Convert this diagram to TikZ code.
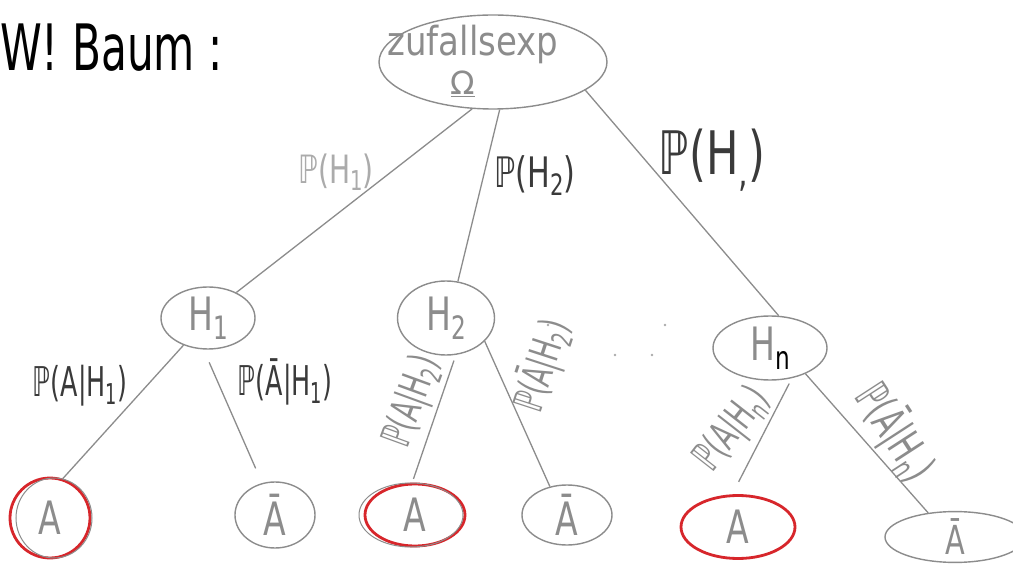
\documentclass[tikz,border=0pt]{standalone}
\usepackage{fontspec}
\setmainfont{DejaVu Sans}
\usetikzlibrary{shapes.geometric}
% handwritten-looking narrow text and small lowered indices
\newcommand\hw[1]{\scalebox{0.72}[1]{#1}}
\newcommand\nw[1]{\scalebox{0.62}[1]{#1}}
\newcommand\idx[1]{\raisebox{-0.35ex}{\scalebox{0.7}{#1}}}
\definecolor{pencil}{HTML}{8C8C8C}
\definecolor{ink}{HTML}{3A3A3A}
\definecolor{faint}{HTML}{ABABAB}
\definecolor{marker}{HTML}{D7262B}
\begin{document}
\begin{tikzpicture}[x=1pt,y=-1pt,
  bubble/.style={ellipse, draw=pencil, line width=1.4pt, inner sep=0pt, text=pencil},
  hit/.style={bubble, draw=marker, line width=2.8pt},
  branch/.style={draw=pencil, line width=1.3pt},
  prob/.style={text=ink, inner sep=0pt, font=\fontsize{41}{41}\selectfont},
  leaftext/.style={font=\fontsize{46}{46}\selectfont},
  htext/.style={font=\fontsize{46}{46}\selectfont}]
\useasboundingbox (0,0) rectangle (1013,564);
\fill[white] (0,0) rectangle (1013,564);

% title
\node[inner sep=0pt, anchor=west, font=\fontsize{64}{64}\selectfont] (title) at (0,48) {\scalebox{0.66}[1]{W! Baum :}};

% root: the random experiment
\node[bubble, minimum width=228, minimum height=94] (root) at (493,62) {};
\node[inner sep=0pt, text=pencil, font=\fontsize{40}{40}\selectfont] (rootname) at (473,44) {\scalebox{0.85}[1]{zufallsexp}};
\node[inner sep=0pt, text=pencil, font=\fontsize{32}{32}\selectfont] (omega) at (463,84) {\underline{Ω}};

% hypotheses
\node[bubble, minimum width=94, minimum height=62, htext] (h1) at (208,318) {\hw{H\idx{1}}};
\node[bubble, minimum width=97, minimum height=74, htext] (h2) at (446,318) {\hw{H\idx{2}}};
\node[bubble, minimum width=114, minimum height=64, htext] (hn) at (770,348) {\hw{H\idx{\textcolor{black}{n}}}};

% leaves
\node[hit, minimum width=80, minimum height=80, leaftext] (a1) at (50,518) {\hw{A}};
\node[bubble, minimum width=80, minimum height=66, leaftext] (b1) at (275,515) {\hw{Ā}};
\node[hit, minimum width=100, minimum height=62, leaftext] (a2) at (415,515) {\hw{A}};
\node[bubble, minimum width=90, minimum height=60, leaftext] (b2) at (567,515) {\hw{Ā}};
\node[hit, minimum width=114, minimum height=63, leaftext] (a3) at (738,527) {\hw{A}};
\node[bubble, minimum width=140, minimum height=48, font=\fontsize{40}{40}\selectfont] (b3) at (955,537) {\hw{Ā}};

% a pencil outline under each marked leaf
\draw[pencil, line width=1pt] ([xshift=4pt]a1.center) ellipse [x radius=38, y radius=40];
\draw[pencil, line width=1pt] ([xshift=-4pt]a2.center) ellipse [x radius=52, y radius=32];

% first level branches
\draw[branch] (root.246) -- (h1.42);
\draw[branch] (root.278) -- (h2.72);
\draw[branch] (root.343) -- (hn.75);

% second level branches
\draw[branch] (h1.228) -- (a1.72);
\draw[branch, shorten <=14pt, shorten >=16pt] (h1.262) -- (b1.112);
\draw[branch, shorten <=6pt, shorten >=4pt] (h2.285) -- (a2.95);
\draw[branch] (h2.329) -- (b2.121);
\draw[branch, shorten <=6pt, shorten >=14pt] (hn.306) -- (a3.100);
\draw[branch] (hn.324) -- (b3.138);

% branch probabilities
\node[prob, text=faint, font=\fontsize{39}{39}\selectfont] (p1) at (336,172) {\hw{ℙ(H\idx{1})}};
\node[prob, font=\fontsize{42}{42}\selectfont] (p2) at (535,176) {\hw{ℙ(H\idx{2})}};
\node[prob, font=\fontsize{60}{60}\selectfont] (p3) at (712,160) {\hw{ℙ(H\idx{,})}};
\node[prob] (pa1) at (80,386) {\nw{ℙ(A|H\idx{1})}};
\node[prob] (pb1) at (285,382) {\nw{ℙ(Ā|H\idx{1})}};
\node[prob, text=pencil, rotate=70] (pa2) at (413,402) {\nw{ℙ(A|H\idx{2})}};
\node[prob, text=pencil, rotate=72] (pb2) at (542,366) {\nw{ℙ(Ā|H\idx{2})}};
\node[prob, text=pencil, rotate=52] (pa3) at (733,430) {\nw{ℙ(A|H\idx{n})}};
\node[prob, text=pencil, rotate=-57, font=\fontsize{46}{46}\selectfont] (pb3) at (895,432) {\nw{ℙ(Ā|H\idx{n})}};

% the omitted hypotheses in between
\foreach \x/\y in {548/325, 615/355, 652/355, 665/325}
  \fill[faint] (\x,\y) circle (1.3);
\end{tikzpicture}
\end{document}
